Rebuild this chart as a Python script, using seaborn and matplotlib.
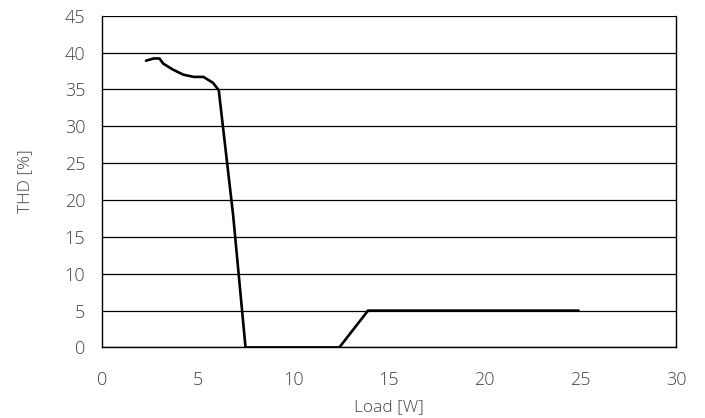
import matplotlib
matplotlib.use("Agg")
import matplotlib.pyplot as plt
import pandas as pd
import seaborn as sns

# Measured THD vs load
load_w = [2.3, 2.7, 3.0, 3.2, 3.7, 4.25, 4.8, 5.3, 5.8, 6.1, 6.85, 7.5, 10.0, 12.4, 13.9, 17.0, 21.0, 24.9]
thd_pct = [38.9, 39.2, 39.2, 38.5, 37.7, 37.0, 36.7, 36.7, 35.9, 34.9, 18.0, 0.0, 0.0, 0.0, 5.0, 5.0, 5.0, 5.0]

df = pd.DataFrame({"load": load_w, "thd": thd_pct})

sns.set_theme(style="white")
plt.rcParams["font.family"] = ["Open Sans", "DejaVu Sans"]
plt.rcParams["font.weight"] = "light"

fig = plt.figure(figsize=(7.05, 4.18), dpi=100)
ax = fig.add_axes([0.1447, 0.1687, 0.8143, 0.7937])

sns.lineplot(data=df, x="load", y="thd", color="black", linewidth=1.9, ax=ax, sort=False)

ax.set_xlim(0, 30)
ax.set_ylim(0, 45)
ax.set_xticks(range(0, 31, 5))
ax.set_yticks(range(0, 46, 5))
ax.yaxis.grid(True, color="black", linewidth=0.9)
ax.set_axisbelow(True)

for side in ["left", "right", "bottom"]:
    ax.spines[side].set_visible(True)
    ax.spines[side].set_color("black")
    ax.spines[side].set_linewidth(1.0)
ax.spines["top"].set_visible(False)

ax.tick_params(axis="x", direction="out", length=5, width=1, color="black",
               pad=12, labelsize=13, labelcolor="#444444")
ax.tick_params(axis="y", direction="out", length=6, width=1, color="black",
               pad=6, labelsize=13, labelcolor="#444444")

ax.set_xlabel("Load [W]", fontsize=12.5, color="#444444", labelpad=7, fontweight="light")
ax.set_ylabel("THD [%]", fontsize=12.5, color="#444444", labelpad=23, fontweight="light")

fig.savefig("out.png", dpi=100)
